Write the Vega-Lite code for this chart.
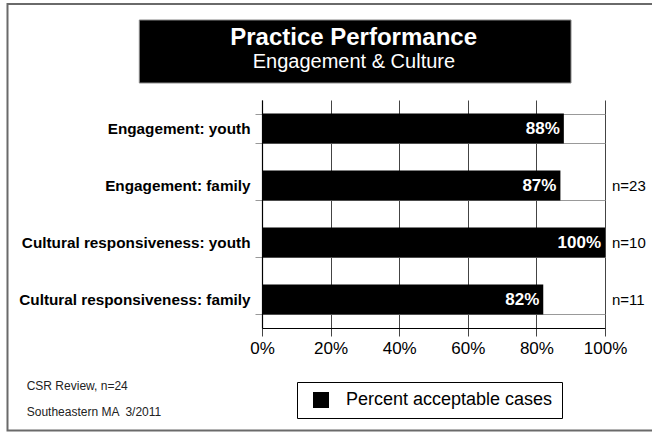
{
  "$schema": "https://vega.github.io/schema/vega-lite/v6.json",
  "width": 343,
  "height": 228,
  "autosize": "none",
  "padding": {"left": 262, "top": 100, "right": 47, "bottom": 104},
  "background": "white",
  "config": {
    "font": "Liberation Sans",
    "view": {"stroke": null}
  },
  "data": {
    "values": [
      {"category": "Engagement: youth", "pct": 0.88, "n": "", "series": "Percent acceptable cases"},
      {"category": "Engagement: family", "pct": 0.87, "n": "n=23", "series": "Percent acceptable cases"},
      {"category": "Cultural responsiveness: youth", "pct": 1.0, "n": "n=10", "series": "Percent acceptable cases"},
      {"category": "Cultural responsiveness: family", "pct": 0.82, "n": "n=11", "series": "Percent acceptable cases"}
    ]
  },
  "layer": [
    {
      "data": {"values": [{}]},
      "layer": [
        {
          "mark": {"type": "rect", "fill": null, "filled": false, "stroke": "#6a6a6a", "strokeWidth": 2},
          "encoding": {
            "x": {"datum": -0.742, "type": "quantitative", "scale": {"domain": [0, 1], "nice": false, "zero": false}, "axis": null},
            "x2": {"datum": 1.2},
            "y": {"datum": -0.4211, "type": "quantitative", "scale": {"domain": [0, 1], "nice": false, "zero": false, "reverse": true}, "axis": null},
            "y2": {"datum": 1.4496}
          }
        },
        {
          "mark": {"type": "rect", "fill": "black", "stroke": "#888", "strokeWidth": 1},
          "encoding": {
            "x": {"datum": -0.3577, "type": "quantitative", "scale": {"domain": [0, 1], "nice": false, "zero": false}, "axis": null},
            "x2": {"datum": 0.9009},
            "y": {"datum": -0.3509, "type": "quantitative", "scale": {"domain": [0, 1], "nice": false, "zero": false, "reverse": true}, "axis": null},
            "y2": {"datum": -0.0746}
          }
        },
        {
          "mark": {"type": "text", "text": "Practice Performance", "font": "Liberation Sans", "fontWeight": "bold", "fontSize": 24, "fill": "white", "align": "center", "baseline": "alphabetic"},
          "encoding": {
            "x": {"datum": 0.267, "type": "quantitative", "scale": {"domain": [0, 1], "nice": false, "zero": false}, "axis": null},
            "y": {"datum": -0.2395, "type": "quantitative", "scale": {"domain": [0, 1], "nice": false, "zero": false, "reverse": true}, "axis": null}
          }
        },
        {
          "mark": {"type": "text", "text": "Engagement & Culture", "font": "Liberation Sans", "fontSize": 20, "fill": "white", "align": "center", "baseline": "alphabetic"},
          "encoding": {
            "x": {"datum": 0.268, "type": "quantitative", "scale": {"domain": [0, 1], "nice": false, "zero": false}, "axis": null},
            "y": {"datum": -0.1425, "type": "quantitative", "scale": {"domain": [0, 1], "nice": false, "zero": false, "reverse": true}, "axis": null}
          }
        },
        {
          "mark": {"type": "text", "text": "CSR Review, n=24", "font": "Liberation Sans", "fontSize": 12, "fill": "#222", "align": "left", "baseline": "alphabetic"},
          "encoding": {
            "x": {"datum": -0.686, "type": "quantitative", "scale": {"domain": [0, 1], "nice": false, "zero": false}, "axis": null},
            "y": {"datum": 1.2719, "type": "quantitative", "scale": {"domain": [0, 1], "nice": false, "zero": false, "reverse": true}, "axis": null}
          }
        },
        {
          "mark": {"type": "text", "text": "Southeastern MA \u00a03/2011", "font": "Liberation Sans", "fontSize": 12, "fill": "#222", "align": "left", "baseline": "alphabetic"},
          "encoding": {
            "x": {"datum": -0.686, "type": "quantitative", "scale": {"domain": [0, 1], "nice": false, "zero": false}, "axis": null},
            "y": {"datum": 1.386, "type": "quantitative", "scale": {"domain": [0, 1], "nice": false, "zero": false, "reverse": true}, "axis": null}
          }
        }
      ]
    },
    {
      "layer": [
        {
          "mark": {"type": "bar"},
          "encoding": {
            "y": {
              "field": "category", "type": "nominal", "sort": null,
              "scale": {"paddingInner": 0.474, "paddingOuter": 0.237},
              "axis": {
                "title": null, "labelFont": "Liberation Sans", "labelFontWeight": "bold", "labelFontSize": 15.3, "labelColor": "black",
                "ticks": true, "tickBand": "extent", "tickSize": 7, "tickColor": "#999",
                "grid": true, "gridColor": "#999", "gridWidth": 1,
                "domain": true, "domainColor": "black", "domainWidth": 1.2,
                "labelPadding": 5, "labelLimit": 300
              }
            },
            "x": {
              "field": "pct", "type": "quantitative",
              "scale": {"domain": [0, 1], "nice": false},
              "axis": {
                "title": null, "format": ".0%", "values": [0, 0.2, 0.4, 0.6, 0.8, 1],
                "labelFont": "Liberation Sans", "labelFontSize": 17, "labelColor": "black", "labelFlush": false,
                "grid": true, "gridColor": "#444", "gridWidth": 1,
                "ticks": true, "tickSize": 8, "tickColor": "#444",
                "domain": true, "domainColor": "black", "domainWidth": 1.2,
                "labelPadding": 4
              }
            },
            "color": {
              "field": "series", "type": "nominal",
              "scale": {"range": ["black"]},
              "legend": {
                "title": null, "orient": "none", "legendX": 35, "legendY": 282,
                "symbolType": "square", "symbolSize": 256, "symbolStrokeWidth": 0,
                "labelFont": "Liberation Sans", "labelFontSize": 18, "labelColor": "black", "labelLimit": 400,
                "strokeColor": "black", "padding": 9, "symbolOffset": 6, "labelOffset": 16,
                "fillColor": "white"
              }
            }
          }
        },
        {
          "mark": {"type": "text", "align": "right", "baseline": "middle", "dx": -4, "font": "Liberation Sans", "fontWeight": "bold", "fontSize": 17, "fill": "white"},
          "encoding": {
            "y": {"field": "category", "type": "nominal", "sort": null},
            "x": {"field": "pct", "type": "quantitative"},
            "text": {"field": "pct", "type": "quantitative", "format": ".0%"}
          }
        },
        {
          "mark": {"type": "text", "align": "left", "baseline": "middle", "dx": 7, "font": "Liberation Sans", "fontSize": 15, "fill": "black"},
          "encoding": {
            "y": {"field": "category", "type": "nominal", "sort": null},
            "x": {"datum": 1, "type": "quantitative"},
            "text": {"field": "n", "type": "nominal"}
          }
        }
      ]
    }
  ],
  "resolve": {"scale": {"x": "independent", "y": "independent"}}
}
